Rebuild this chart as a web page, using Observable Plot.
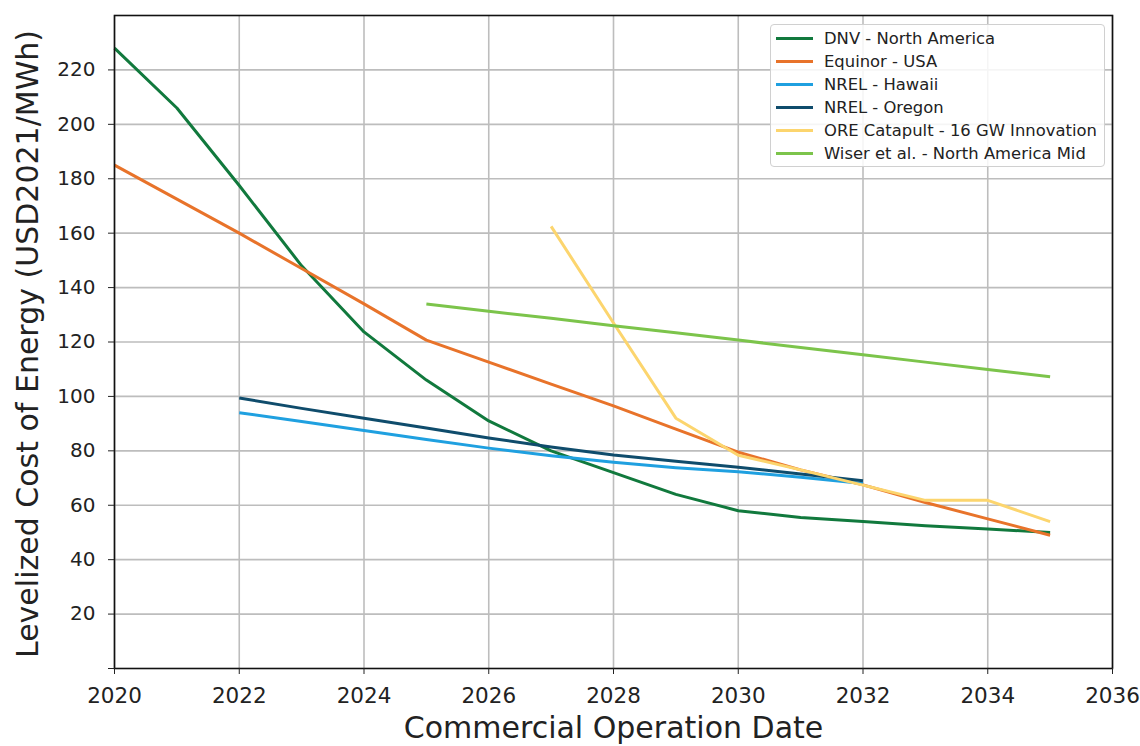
<!DOCTYPE html>
<html>
<head>
<meta charset="utf-8">
<script src="https://cdn.jsdelivr.net/npm/d3@7"></script>
<script src="https://cdn.jsdelivr.net/npm/@observablehq/plot@0.6"></script>
<style>
  html, body { margin: 0; padding: 0; background: #fff; }
  #wrap { position: relative; width: 1140px; height: 746px; font-family: "DejaVu Sans", sans-serif; }
  #legend { position: absolute; left: 770px; top: 24px; width: 335px; height: 143px; border: 1px solid #d0d0d0; border-radius: 4px; background: rgba(255,255,255,0.85); box-sizing: border-box; padding-top: 2px; }
  .row { display: flex; align-items: center; height: 23px; font-size: 16.4px; color: #222; white-space: nowrap; }
  .sw { width: 37px; height: 3px; margin-left: 5px; margin-right: 11px; }
</style>
</head>
<body>
<div id="wrap"><div id="chart"></div><div id="legend"></div></div>
<script>
// Series data
const seriesNames = ["DNV - North America", "Equinor - USA", "NREL - Hawaii", "NREL - Oregon", "ORE Catapult - 16 GW Innovation", "Wiser et al. - North America Mid"];
const seriesColors = ["#11793d", "#e8732a", "#1fa0e0", "#0f4c6c", "#fcd56e", "#7cc44b"];

const dnvYears = [2020, 2021, 2022, 2023, 2024, 2025, 2026, 2027, 2028, 2029, 2030, 2031, 2032, 2033, 2034, 2035];
const dnvValues = [228, 206, 177.5, 148, 123.7, 106, 91, 80, 72, 64, 58, 55.5, 54, 52.5, 51.3, 50];

const equinorYears = [2020, 2021, 2022, 2023, 2024, 2025, 2026, 2027, 2028, 2029, 2030, 2031, 2032, 2033, 2034, 2035];
const equinorValues = [185, 172.5, 160, 147, 134, 120.7, 112.6, 104.5, 96.5, 88, 79.5, 73, 67.5, 61, 55, 49];

const hawaiiYears = [2022, 2023, 2024, 2025, 2026, 2027, 2028, 2029, 2030, 2031, 2032];
const hawaiiValues = [94, 90.8, 87.5, 84.2, 81, 78.2, 75.8, 73.8, 72.3, 70.3, 68];

const oregonYears = [2022, 2023, 2024, 2025, 2026, 2027, 2028, 2029, 2030, 2031, 2032];
const oregonValues = [99.4, 95.6, 92, 88.4, 84.7, 81.4, 78.5, 76.2, 74, 71.5, 69];

const oreYears = [2027, 2028, 2029, 2030, 2031, 2032, 2033, 2034, 2035];
const oreValues = [162.5, 127, 92, 78.4, 73, 67.4, 61.8, 61.8, 54];

const wiserYears = [2025, 2026, 2027, 2028, 2029, 2030, 2031, 2032, 2033, 2034, 2035];
const wiserValues = [134, 131.3, 128.7, 126, 123.4, 120.7, 118, 115.3, 112.6, 109.9, 107.2];

const xTicks = [2020, 2022, 2024, 2026, 2028, 2030, 2032, 2034, 2036];
const yTicks = [0, 20, 40, 60, 80, 100, 120, 140, 160, 180, 200, 220];
const xLabel = "Commercial Operation Date";
const yLabel = "Levelized Cost of Energy (USD2021/MWh)";

const allYears = [dnvYears, equinorYears, hawaiiYears, oregonYears, oreYears, wiserYears];
const allValues = [dnvValues, equinorValues, hawaiiValues, oregonValues, oreValues, wiserValues];
const rows = [];
seriesNames.forEach((name, i) => {
  allYears[i].forEach((yr, j) => rows.push({series: name, year: yr, value: allValues[i][j]}));
});

const chart = Plot.plot({
  width: 1140,
  height: 746,
  marginLeft: 114,
  marginRight: 28,
  marginTop: 15,
  marginBottom: 78,
  style: {fontFamily: "DejaVu Sans, sans-serif", color: "#222", background: "#fff"},
  x: {domain: [2020, 2036], ticks: xTicks, tickFormat: d => String(d)},
  y: {domain: [0, 240], ticks: yTicks},
  color: {domain: seriesNames, range: seriesColors},
  marks: [
    Plot.gridX(xTicks, {stroke: "#bdbdbd", strokeOpacity: 1, strokeWidth: 1.6}),
    Plot.gridY(yTicks.filter(d => d > 0), {stroke: "#bdbdbd", strokeOpacity: 1, strokeWidth: 1.6}),
    Plot.line(rows, {x: "year", y: "value", z: "series", stroke: "series", strokeWidth: 3, strokeLinejoin: "round", strokeLinecap: "butt"}),
    Plot.frame({stroke: "#111", strokeWidth: 1.6}),
    Plot.axisX(xTicks, {tickSize: 6, tickPadding: 13, fontSize: 21.5, label: null, tickFormat: d => String(d)}),
    Plot.axisY(yTicks, {tickSize: 6, tickPadding: 13, fontSize: 20, label: null, tickFormat: d => d === 0 ? "" : String(d)}),
    Plot.text([xLabel], {frameAnchor: "bottom", dy: 60, fontSize: 30, fill: "#222", lineAnchor: "middle", textAnchor: "middle"}),
    Plot.text([yLabel], {frameAnchor: "left", dx: -86, dy: 2, rotate: -90, fontSize: 30, fill: "#222", lineAnchor: "middle", textAnchor: "middle"})
  ]
});
document.getElementById("chart").appendChild(chart);

const legend = document.getElementById("legend");
seriesNames.forEach((name, i) => {
  const r = document.createElement("div");
  r.className = "row";
  const sw = document.createElement("div");
  sw.className = "sw";
  sw.style.background = seriesColors[i];
  const t = document.createElement("span");
  t.textContent = name;
  r.appendChild(sw); r.appendChild(t);
  legend.appendChild(r);
});
</script>
</body>
</html>
